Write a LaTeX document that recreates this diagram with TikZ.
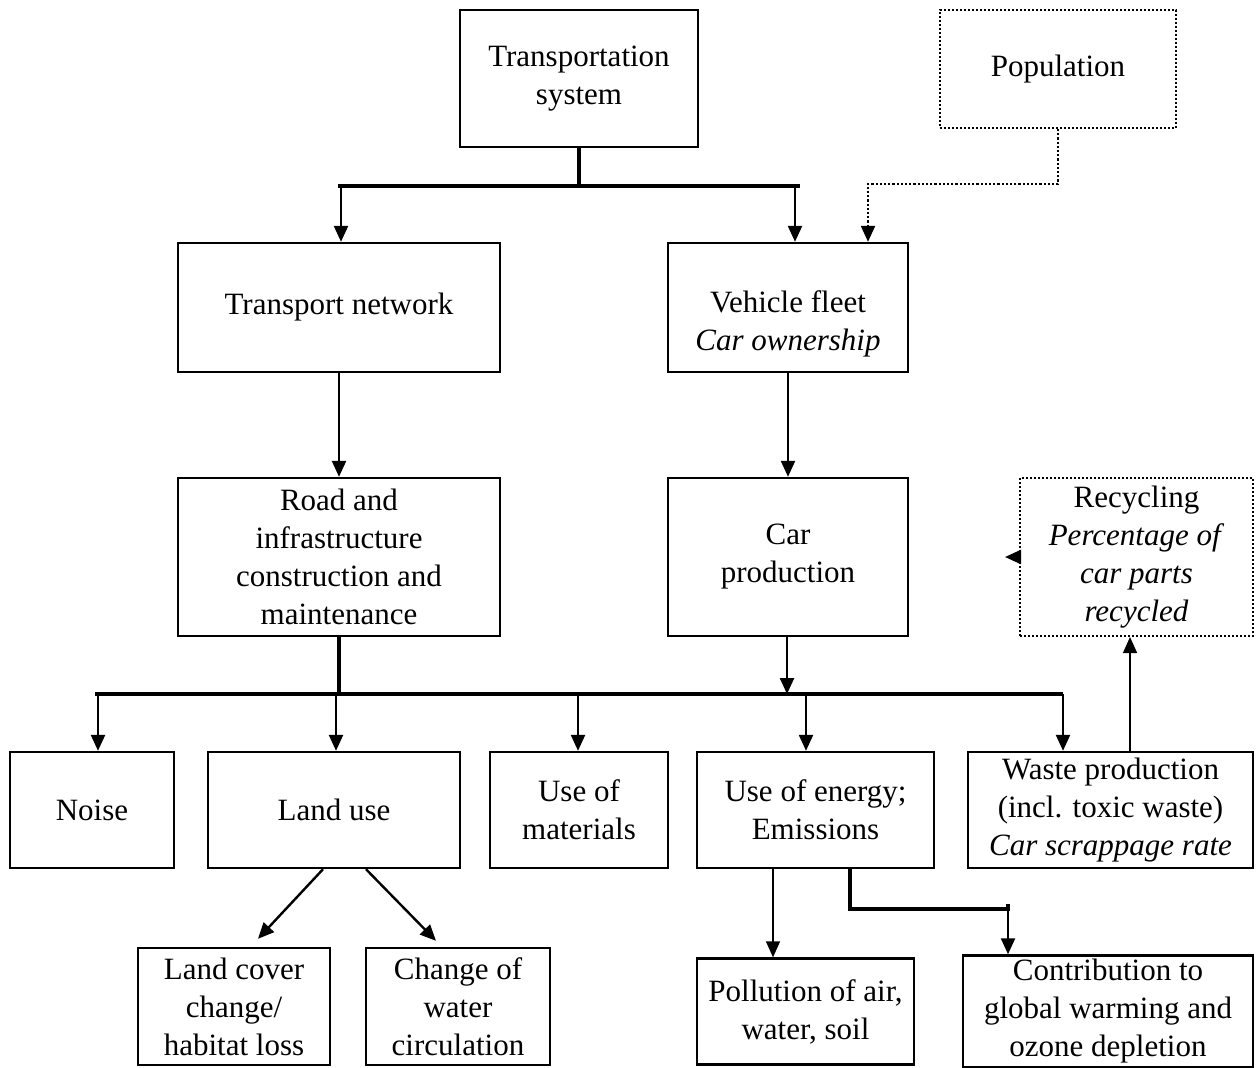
\documentclass[tikz,border=0pt]{standalone}
\usepackage{fontspec}
\setmainfont{Liberation Serif}
\usetikzlibrary{arrows.meta}

\tikzset{
  box/.style={draw, line width=1.2pt, align=center, inner sep=2pt},
  dotbox/.style={box, line width=1pt, densely dotted},
  bus/.style={line width=2pt},
  arr/.style={line width=1.2pt, -{Triangle[length=8pt,width=7pt]}},
  thinarr/.style={line width=0.7pt, -{Triangle[length=8pt,width=7pt]}},
  dotarr/.style={line width=1.1pt, densely dotted, -{Triangle[length=8pt,width=7pt]}}
}

\begin{document}
\begin{tikzpicture}[x=0.5pt,y=-0.5pt,font=\fontsize{15.5}{19}\selectfont]
\useasboundingbox (0,0) rectangle (1256,1067);

% top level
\node[box, minimum width=119pt, minimum height=68.5pt] (trans) at (579,78.5) {Transportation\\system};
\node[dotbox, minimum width=118pt, minimum height=59pt] (pop) at (1058,69) {Population};

% second level
\node[box, minimum width=161pt, minimum height=64.5pt] (net) at (339,307.5) {Transport network};
\node[box, minimum width=120pt, minimum height=64.5pt] (fleet) at (788,307.5) {\rule{0pt}{27pt}Vehicle fleet\\\textit{Car ownership}};

% third level
\node[box, minimum width=161pt, minimum height=79pt] (road) at (339,557) {Road and\\infrastructure\\construction and\\maintenance};
\node[box, minimum width=120pt, minimum height=79pt] (carprod) at (788,557) {Car\\production};
\node[dotbox, minimum width=116.5pt, minimum height=79pt] (recyc) at (1136.5,557) {Recycling\\\textit{Percentage of}\\\textit{car parts}\\\textit{recycled}};

% impacts
\node[box, minimum width=82pt, minimum height=58pt] (noise) at (92,810) {Noise};
\node[box, minimum width=126pt, minimum height=58pt] (land) at (334,810) {Land use};
\node[box, minimum width=89pt, minimum height=58pt] (mat) at (579,810) {Use of\\materials};
\node[box, minimum width=118.5pt, minimum height=58pt] (energy) at (815.5,810) {Use of energy;\\Emissions};
\node[box, minimum width=142.5pt, minimum height=58pt] (waste) at (1110.5,810) {Waste production\\(incl. toxic waste)\\\textit{Car scrappage rate}};

% consequences
\node[box, minimum width=96pt, minimum height=58.5pt] (cover) at (234,1006.5) {Land cover\\change/\\habitat loss};
\node[box, minimum width=92pt, minimum height=58.5pt] (water) at (458,1006.5) {Change of\\water\\circulation};
\node[box, minimum width=108.5pt, minimum height=53pt] (poll) at (805.5,1011.5) {Pollution of air,\\water, soil};
\node[box, minimum width=145pt, minimum height=53pt] (contrib) at (1108,1011.5) {Contribution to\\global warming and\\ozone depletion};

% upper branching
\coordinate (busL) at (338,186);
\coordinate (busR) at (800,186);
\draw[bus] (busL) -- (busR);
\draw[bus] (trans.south) -- (trans.south |- busL);
\coordinate (t1) at (341,186);
\coordinate (t2) at (795,186);
\draw[arr] (t1) -- (t1 |- net.north);
\draw[arr] (t2) -- (t2 |- fleet.north);
\draw[dotarr] (pop.south) -- ++(0,55) -| ([xshift=40pt]fleet.north);

\draw[arr] (net.south) -- (road.north);
\draw[arr] (fleet.south) -- (carprod.north);
\coordinate (recout) at ([xshift=-7pt]recyc.west);
\draw[dotarr] (recyc.west) -- (recout);

% lower branching
\coordinate (busL2) at (95,694);
\coordinate (busR2) at (1063,694);
\draw[bus] (busL2) -- (busR2);
\draw[bus] (road.south) -- (road.south |- busL2);
\draw[arr] ([xshift=-0.5pt]carprod.south) -- ([xshift=-0.5pt]carprod.south |- busL2);
\foreach \xx/\tgt in {98/noise, 336/land, 578/mat, 806/energy, 1063/waste}{
  \coordinate (d) at (\xx,694);
  \draw[arr] (d) -- (d |- \tgt.north);
}
\coordinate (wup) at ([xshift=9.75pt]waste.north);
\draw[thinarr] (wup) -- (wup |- recyc.south);

% land use effects
\draw[arr] ([xshift=-5.5pt]land.south) -- ([xshift=12pt,yshift=4pt]cover.north);
\draw[arr] ([xshift=16pt]land.south) -- ([xshift=-11pt,yshift=3pt]water.north);

% emissions effects
\draw[thinarr] ([xshift=-21.25pt]energy.south) -- ([xshift=-16.25pt]poll.north);
\draw[bus] ([xshift=17.25pt]energy.south) -- ++(0,40) -| ([xshift=-50pt,yshift=25pt]contrib.north);
\draw[arr] ([xshift=-50pt,yshift=25pt]contrib.north) -- ([xshift=-50pt]contrib.north);
\end{tikzpicture}
\end{document}
